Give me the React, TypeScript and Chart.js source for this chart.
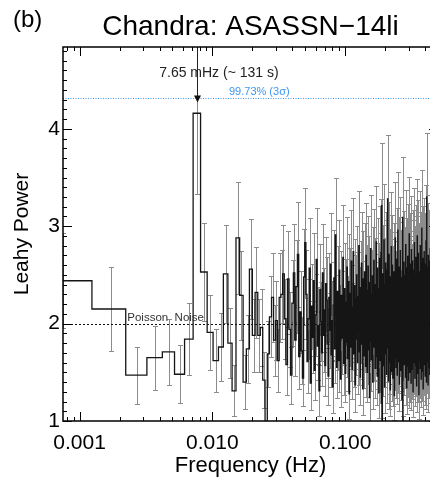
import React, { useEffect, useRef } from "react";
import { Chart, registerables } from "chart.js";

Chart.register(...registerables);

// ---- data ----
const FREQ_START = 0.000745; // Hz, first Fourier frequency
const FREQ_STEP = 0.000987; // Hz, frequency resolution
const ERROR_FRACTION = 0.2; // each error bar is about +/-20% of its power

const LEAHY_POWER = [
  2.44, 2.15, 1.47, 1.65, 1.71, 1.48, 1.84, 4.16, 2.53, 1.91,
  1.62, 1.76, 2.51, 1.80, 1.31, 2.88, 2.29, 1.40, 1.74, 2.56,
  1.88, 2.32, 1.88, 1.96, 1.42, 0.80, 1.69, 2.07, 2.27, 1.83,
  2.03, 1.62, 2.27, 2.30, 2.51,
  2.05, 1.58, 2.46, 1.94, 1.47, 2.21, 2.52, 1.83, 2.38, 2.71,
  1.66, 2.12, 1.72, 1.44, 2.48, 2.83, 2.30, 1.61, 2.05, 2.57,
  1.39, 2.18, 1.86, 2.44, 1.52, 2.09, 2.66, 1.77, 1.98, 1.31,
  2.35, 2.02, 1.70, 2.52, 1.88, 2.14, 1.57, 2.41, 2.24, 1.80,
  1.46, 2.27, 1.93, 2.61, 1.68, 2.03, 1.35, 2.19, 2.47, 1.74,
  2.91, 2.08, 1.55, 2.33, 1.91, 1.62, 2.55, 2.00, 1.43, 2.29,
  1.85, 2.12, 2.68, 1.59, 1.97, 2.36, 1.49, 2.22, 1.81, 2.58,
  1.64, 2.07, 2.43, 1.28, 1.95, 2.31, 1.76, 2.64, 2.01, 1.53,
  2.17, 2.74, 1.69, 1.90, 2.39, 1.37, 2.25, 1.84, 2.50, 2.06,
  1.60, 2.28, 1.92, 2.80, 1.71, 2.15, 1.45, 2.37, 1.99, 2.62,
  1.79, 2.10, 1.33, 2.46, 2.04, 1.67, 2.53, 1.88, 2.20, 1.56,
  2.70, 1.94, 2.34, 1.50, 2.11, 2.59, 1.73, 1.96, 2.42, 1.24,
  2.16, 2.02, 2.77, 1.82, 1.63, 2.30, 1.98, 2.49, 1.40, 2.23,
  1.87, 2.65, 1.76, 2.09, 2.40, 1.54, 2.26, 1.93, 2.84, 1.66,
  2.05, 1.46, 2.57, 2.13, 1.78, 2.36, 1.29, 2.19, 2.67, 1.91,
  2.44, 1.62, 2.00, 2.73, 1.18, 3.21, 1.72, 0.86, 2.31, 1.99,
  2.51, 1.57, 2.15, 2.86, 1.83, 1.35, 2.40, 2.08, 1.69, 2.62,
  1.94, 2.27, 1.48, 2.55, 2.02, 1.75, 3.28, 1.88, 2.34, 1.41,
  2.12, 2.71, 1.60, 2.20, 1.97, 2.48, 1.32, 2.39, 1.85, 2.06,
  2.79, 1.51, 2.24, 1.90, 2.60, 1.73, 1.44, 2.33, 2.17, 1.81,
  2.53, 1.98, 1.26, 2.45, 2.10, 1.65, 2.88, 1.92, 2.29, 1.55,
  2.04, 2.66, 1.79, 2.37, 1.47, 2.21, 1.86, 2.96, 1.61, 2.14,
  2.43, 1.70, 1.95, 2.58, 1.38, 2.26, 2.01, 1.84, 2.75, 1.52,
  2.18, 1.89, 2.47, 1.63, 2.32, 1.99, 1.22, 2.54, 2.07, 3.09,
  0.88, 2.28, 1.77, 2.40, 1.96, 2.63, 1.58, 2.11, 1.83, 2.36,
  1.67, 2.49, 2.02, 1.45, 2.81, 1.90, 2.22, 1.74, 2.57, 1.34,
  2.13, 2.44, 1.87, 2.03, 2.69, 1.56, 2.30, 1.93, 1.42, 2.52,
  2.08, 1.71, 2.92, 1.95, 2.25, 1.50, 2.38, 1.82, 2.61, 1.64,
  2.16, 2.00, 1.39, 2.46, 2.76, 1.78, 2.19, 1.91, 2.35, 1.53,
  2.64, 1.85, 2.09, 1.30, 2.42, 2.05, 1.68, 2.55, 1.97, 2.27,
  1.60, 2.83, 1.89, 2.12, 1.44, 2.50, 2.01, 1.75, 2.37, 1.93,
  2.68, 1.57, 2.23, 1.98, 1.36, 2.59, 1.81, 2.15, 2.90, 1.66,
  2.06, 2.41, 1.49, 2.29, 1.92, 2.72, 1.72, 2.10, 1.27, 2.34,
  2.53, 1.86, 2.03, 1.62, 2.47, 2.18, 1.94, 2.80, 1.54, 2.26,
  1.79, 2.39, 2.00, 1.43, 2.62, 1.88, 2.14, 2.98, 1.70, 2.31,
  1.96, 1.51, 2.45, 2.08, 1.84, 2.67, 1.33, 2.20, 2.04, 2.56,
  1.65, 2.28, 1.90, 2.74, 1.58, 2.12, 2.43, 1.77, 1.99, 2.36,
  1.46, 2.61, 2.07, 1.83, 2.32, 1.69, 2.85, 1.95, 2.19, 1.40,
  2.50, 3.30, 1.74, 2.11, 1.92, 2.44, 1.61, 2.27, 2.02, 1.88,
  2.58, 1.37, 2.16, 2.70, 1.80, 2.05, 1.55, 2.40, 1.97, 2.23,
  1.73, 2.64, 1.89, 2.09, 1.48, 2.35, 2.01, 2.77, 1.63, 2.14,
];

const X_TICK_VALUES = [0.001, 0.01, 0.1];
const X_TICK_LABELS = ["0.001", "0.010", "0.100"];
const Y_TICK_VALUES = [1, 2, 3, 4];
const Y_TICK_LABELS = ["1", "2", "3", "4"];
const X_MIN = 0.00075;
const X_MAX = 0.5;
const Y_MIN = 1;
const Y_MAX = 4.84;

const POISSON_LEVEL = 2.0;
const SIGMA3_LEVEL = 4.32;
const QPO_FREQ = 0.00765;
const QPO_ARROW_TIP = 4.27;

const TITLE = "Chandra: ASASSN\u221214li";
const PANEL_LABEL = "(b)";
const X_TITLE = "Frequency (Hz)";
const Y_TITLE = "Leahy Power";
const QPO_LABEL = "7.65 mHz (~ 131 s)";
const SIGMA_LABEL = "99.73% (3\u03c3)";
const NOISE_LABEL = "Poisson  Noise";

// annotation anchors (data coordinates)
const QPO_LABEL_AT = { x: 0.0112, y: 4.53 };
const SIGMA_LABEL_AT = { x: 0.01334, y: 4.352 };
const NOISE_LABEL_AT = { x: 0.002287, y: 2.03 };

const FONT = "'Liberation Sans', Arial, Helvetica, sans-serif";

const FREQUENCIES = LEAHY_POWER.map((_, i) => FREQ_START + i * FREQ_STEP);

const overlayPlugin = {
  id: "overlay",
  beforeDatasetsDraw(chart: any) {
    const { ctx, chartArea: a, scales } = chart;
    const x = scales.x;
    const y = scales.y;
    ctx.save();
    ctx.beginPath();
    ctx.rect(a.left, a.top, a.right - a.left, a.bottom - a.top);
    ctx.clip();
    // error bars
    ctx.strokeStyle = "#8c8c8c";
    ctx.lineWidth = 1;
    ctx.beginPath();
    FREQUENCIES.forEach((f, i) => {
      const p = LEAHY_POWER[i];
      const e = p * ERROR_FRACTION;
      const px = Math.round(x.getPixelForValue(f)) + 0.5;
      const y1 = Math.round(y.getPixelForValue(p + e)) + 0.5;
      const y2 = Math.round(y.getPixelForValue(p - e)) + 0.5;
      ctx.moveTo(px, y1);
      ctx.lineTo(px, y2);
      ctx.moveTo(px - 2.5, y1);
      ctx.lineTo(px + 2.5, y1);
      ctx.moveTo(px - 2.5, y2);
      ctx.lineTo(px + 2.5, y2);
    });
    ctx.stroke();
    // Poisson noise level
    const yp = Math.round(y.getPixelForValue(POISSON_LEVEL)) + 0.5;
    ctx.strokeStyle = "#111";
    ctx.setLineDash([2, 2]);
    ctx.beginPath();
    ctx.moveTo(a.left, yp);
    ctx.lineTo(a.right, yp);
    ctx.stroke();
    // 3 sigma level
    const ys = Math.round(y.getPixelForValue(SIGMA3_LEVEL)) + 0.5;
    ctx.strokeStyle = "#3d97f0";
    ctx.setLineDash([1, 1.5]);
    ctx.beginPath();
    ctx.moveTo(a.left, ys);
    ctx.lineTo(a.right, ys);
    ctx.stroke();
    ctx.setLineDash([]);
    ctx.restore();
  },
  afterDraw(chart: any) {
    const { ctx, chartArea: a, scales } = chart;
    const x = scales.x;
    const y = scales.y;
    ctx.save();
    // arrow to the QPO
    const ax = Math.round(x.getPixelForValue(QPO_FREQ)) + 0.5;
    const tip = y.getPixelForValue(QPO_ARROW_TIP);
    ctx.strokeStyle = "#222";
    ctx.lineWidth = 1;
    ctx.beginPath();
    ctx.moveTo(ax, a.top);
    ctx.lineTo(ax, tip - 4);
    ctx.stroke();
    ctx.fillStyle = "#111";
    ctx.beginPath();
    ctx.moveTo(ax, tip);
    ctx.lineTo(ax - 3.5, tip - 7);
    ctx.lineTo(ax + 3.5, tip - 7);
    ctx.closePath();
    ctx.fill();

    // labels
    ctx.textBaseline = "alphabetic";
    ctx.fillStyle = "#222";
    ctx.font = `14px ${FONT}`;
    ctx.textAlign = "center";
    ctx.fillText(QPO_LABEL, x.getPixelForValue(QPO_LABEL_AT.x), y.getPixelForValue(QPO_LABEL_AT.y));
    ctx.fillStyle = "#3d97f0";
    ctx.font = `11px ${FONT}`;
    ctx.textAlign = "left";
    ctx.fillText(SIGMA_LABEL, x.getPixelForValue(SIGMA_LABEL_AT.x), y.getPixelForValue(SIGMA_LABEL_AT.y));
    ctx.fillStyle = "#333";
    ctx.font = `11.5px ${FONT}`;
    ctx.fillText(NOISE_LABEL, x.getPixelForValue(NOISE_LABEL_AT.x), y.getPixelForValue(NOISE_LABEL_AT.y));

    // frame
    ctx.strokeStyle = "#000";
    ctx.lineWidth = 1.5;
    ctx.strokeRect(a.left, a.top, a.right - a.left, a.bottom - a.top);

    // inward ticks
    ctx.lineWidth = 1;
    ctx.beginPath();
    for (let i = 10; i <= 48; i++) {
      const v = i / 10;
      if (v < Y_MIN || v > Y_MAX) continue;
      const py = Math.round(y.getPixelForValue(v)) + 0.5;
      const len = i % 10 === 0 ? 9 : 4;
      ctx.moveTo(a.left, py);
      ctx.lineTo(a.left + len, py);
      ctx.moveTo(a.right, py);
      ctx.lineTo(a.right - len, py);
    }
    for (const d of [0.0001, 0.001, 0.01, 0.1]) {
      for (let m = 1; m <= 9; m++) {
        const v = m * d;
        if (v < X_MIN || v > X_MAX) continue;
        const px = Math.round(x.getPixelForValue(v)) + 0.5;
        const len = m === 1 ? 9 : 4;
        ctx.moveTo(px, a.bottom);
        ctx.lineTo(px, a.bottom - len);
        ctx.moveTo(px, a.top);
        ctx.lineTo(px, a.top + len);
      }
    }
    ctx.stroke();

    // title and panel label
    ctx.fillStyle = "#000";
    ctx.textAlign = "center";
    ctx.font = `28px ${FONT}`;
    ctx.fillText(TITLE, (a.left + a.right) / 2, 35);
    ctx.textAlign = "left";
    ctx.font = `24px ${FONT}`;
    ctx.fillText(PANEL_LABEL, 13, 27);
    ctx.restore();
  },
};

export default function App() {
  const canvasRef = useRef<HTMLCanvasElement | null>(null);

  useEffect(() => {
    document.body.style.margin = "0";
    const canvas = canvasRef.current;
    if (!canvas) return;

    const stepData = LEAHY_POWER.map((p, i) => ({ x: FREQUENCIES[i] - FREQ_STEP / 2, y: p }));
    const last = LEAHY_POWER.length - 1;
    stepData.push({ x: FREQUENCIES[last] + FREQ_STEP / 2, y: LEAHY_POWER[last] });

    const chart = new Chart(canvas, {
      type: "line",
      data: {
        datasets: [
          {
            data: stepData,
            stepped: "before",
            borderColor: "#151515",
            borderWidth: 1.3,
            pointRadius: 0,
            fill: false,
          },
        ],
      },
      options: {
        animation: false,
        responsive: false,
        maintainAspectRatio: false,
        parsing: false,
        normalized: true,
        events: [],
        layout: { padding: { top: 47, right: 2, left: 0, bottom: 0 } },
        plugins: {
          legend: { display: false },
          tooltip: { enabled: false },
          title: { display: false },
        },
        scales: {
          x: {
            type: "logarithmic",
            min: X_MIN,
            max: X_MAX,
            grid: { display: false, drawTicks: false },
            border: { display: false },
            afterBuildTicks: (s: any) => {
              s.ticks = X_TICK_VALUES.map((v) => ({ value: v }));
            },
            afterFit: (s: any) => {
              s.height = 58;
            },
            ticks: {
              callback: (_v: any, i: number) => X_TICK_LABELS[i],
              font: { size: 21, family: FONT },
              color: "#000",
              padding: 10,
              maxRotation: 0,
              autoSkip: false,
            },
            title: {
              display: true,
              text: X_TITLE,
              font: { size: 22, family: FONT },
              color: "#000",
              padding: { top: 0, bottom: 0 },
            },
          },
          y: {
            type: "linear",
            min: Y_MIN,
            max: Y_MAX,
            grid: { display: false, drawTicks: false },
            border: { display: false },
            afterBuildTicks: (s: any) => {
              s.ticks = Y_TICK_VALUES.map((v) => ({ value: v }));
            },
            afterFit: (s: any) => {
              s.width = 63;
            },
            ticks: {
              callback: (_v: any, i: number) => Y_TICK_LABELS[i],
              font: { size: 21, family: FONT },
              color: "#000",
              padding: 3,
              autoSkip: false,
            },
            title: {
              display: true,
              text: Y_TITLE,
              font: { size: 21, family: FONT },
              color: "#000",
              padding: { top: 10, bottom: 0 },
            },
          },
        },
      },
      plugins: [overlayPlugin],
    });

    return () => chart.destroy();
  }, []);

  return (
    <div style={{ width: 430, height: 479, overflow: "hidden", position: "relative", background: "#fff" }}>
      <canvas ref={canvasRef} width={440} height={479} style={{ display: "block", width: 440, height: 479 }} />
    </div>
  );
}
